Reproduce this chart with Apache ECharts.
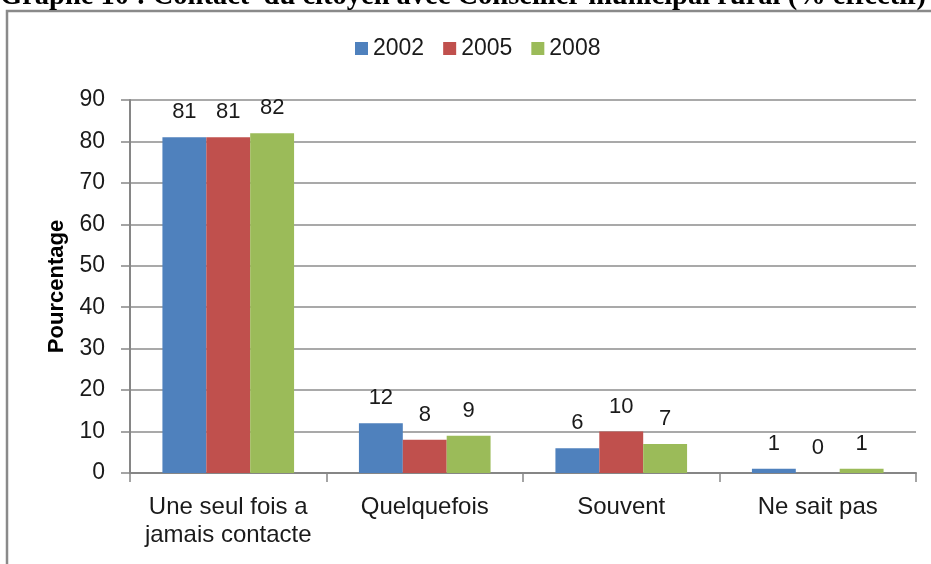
<!DOCTYPE html>
<html>
<head>
<meta charset="utf-8">
<script src="https://cdn.jsdelivr.net/npm/echarts@6/dist/echarts.min.js"></script>
<style>
html,body{margin:0;padding:0;background:#fff;}
#chart{width:931px;height:564px;}
</style>
</head>
<body>
<div id="chart"></div>
<script>
const titleText = 'Graphe 10 : Contact  du citoyen avec Conseiller municipal rural (% effectif)';
const categories = ['Une seul fois a\njamais contacte', 'Quelquefois', 'Souvent', 'Ne sait pas'];
const seriesNames = ['2002', '2005', '2008'];
const values2002 = [81, 12, 6, 1];
const values2005 = [81, 8, 10, 0];
const values2008 = [82, 9, 7, 1];
const yTicks = { min: 0, max: 90, interval: 10 };
const yAxisName = 'Pourcentage';

const colors = ['#4F81BD', '#C0504D', '#9BBB59'];
const font = '"Liberation Sans", Arial, sans-serif';

const chart = echarts.init(document.getElementById('chart'), null, { renderer: 'canvas' });

function makeSeries(name, data, color) {
  return {
    name: name,
    type: 'bar',
    data: data,
    barGap: '0%',
    barCategoryGap: '33%',
    itemStyle: { color: color },
    label: {
      show: true,
      position: 'top',
      distance: 14,
      fontFamily: font,
      fontSize: 22,
      color: '#1a1a1a'
    },
    emphasis: { disabled: true },
    animation: false
  };
}

chart.setOption({
  animation: false,
  backgroundColor: '#ffffff',
  color: colors,
  graphic: [
    {
      type: 'rect',
      shape: { x: 7, y: 11, width: 1000, height: 1000 },
      style: { fill: 'none', stroke: '#8a8a8a', lineWidth: 2.5 },
      silent: true,
      z: -10
    },
    {
      type: 'text',
      x: 0,
      y: 11,
      style: {
        text: titleText,
        font: 'bold 28.5px "Liberation Serif", "Times New Roman", serif',
        fill: '#000',
        verticalAlign: 'bottom',
        align: 'left'
      },
      silent: true
    }
  ],
  legend: {
    data: seriesNames,
    left: 350,
    top: 32,
    icon: 'rect',
    itemWidth: 13,
    itemHeight: 13,
    itemGap: 19,
    textStyle: { fontFamily: font, fontSize: 23, color: '#1a1a1a' },
    selectedMode: false
  },
  grid: { left: 130, right: 15, top: 100, bottom: 91, containLabel: false },
  xAxis: {
    type: 'category',
    data: categories,
    boundaryGap: true,
    axisLine: { lineStyle: { color: '#868686', width: 2 } },
    axisTick: { show: true, length: 9, alignWithLabel: false, lineStyle: { color: '#868686', width: 1.5 } },
    axisLabel: {
      interval: 0,
      margin: 20,
      fontFamily: font,
      fontSize: 24,
      lineHeight: 28,
      color: '#1a1a1a'
    }
  },
  yAxis: {
    type: 'value',
    min: yTicks.min,
    max: yTicks.max,
    interval: yTicks.interval,
    name: yAxisName,
    nameLocation: 'middle',
    nameGap: 62,
    nameTextStyle: { fontFamily: font, fontSize: 22, fontWeight: 'bold', color: '#000' },
    axisLine: { show: true, lineStyle: { color: '#868686', width: 2 } },
    axisTick: { show: true, length: 9, lineStyle: { color: '#868686', width: 1.5 } },
    axisLabel: { margin: 25, fontFamily: font, fontSize: 23, color: '#1a1a1a' },
    splitLine: { show: true, lineStyle: { color: '#8c8c8c', width: 1.5 } }
  },
  series: [
    makeSeries(seriesNames[0], values2002, colors[0]),
    makeSeries(seriesNames[1], values2005, colors[1]),
    makeSeries(seriesNames[2], values2008, colors[2])
  ]
});
</script>
</body>
</html>
